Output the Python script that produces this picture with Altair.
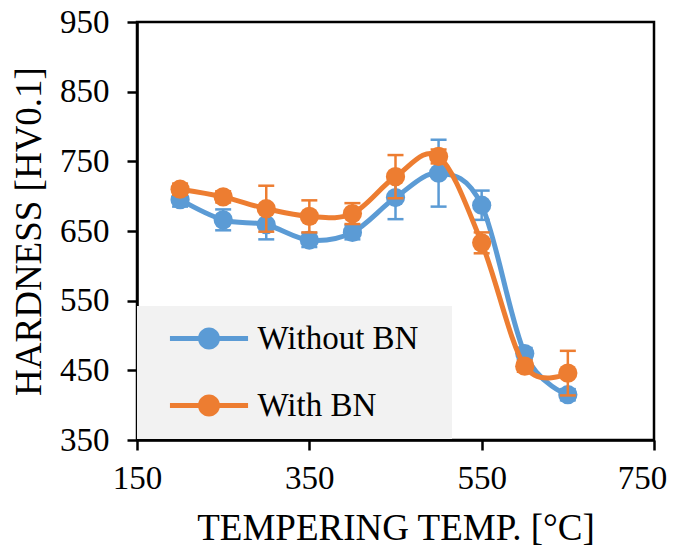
import altair as alt
import pandas as pd

# ---- data ----
temps = [200, 250, 300, 350, 400, 450, 500, 550, 600, 650]
without_bn = [695, 666, 659, 637, 648, 698, 733, 687, 474, 415]
without_bn_err = [10, 15, 21, 10, 10, 31, 48, 21, 8, 8]
with_bn = [710, 699, 682, 671, 675, 728, 757, 633, 456, 446]
with_bn_err = [8, 8, 33, 23, 15, 31, 10, 15, 8, 32]
series_names = ["Without BN", "With BN"]
series_colors = ["#5B9BD5", "#ED7D31"]
x_ticks = [150, 350, 550, 750]
y_ticks = [350, 450, 550, 650, 750, 850, 950]

rows = []
for name, vals, errs in [
    (series_names[0], without_bn, without_bn_err),
    (series_names[1], with_bn, with_bn_err),
]:
    for t, v, e in zip(temps, vals, errs):
        rows.append({"temp": t, "hardness": v, "lo": v - e, "hi": v + e, "series": name})
df = pd.DataFrame(rows)

FONT = "Liberation Serif"

x_axis = alt.Axis(values=x_ticks, title="TEMPERING TEMP. [°C]", labelFlush=False,
                  labelOverlap=False, labelPadding=12, titleY=99,
                  titleBaseline="alphabetic",
                  labelOffset={"condition": {"test": "datum.value == 750", "value": -12},
                               "value": 0})
y_axis = alt.Axis(values=y_ticks, title="HARDNESS [HV0.1]", labelPadding=18,
                  labelOverlap=False, titleX=-97, titleBaseline="alphabetic")
x_scale = alt.Scale(domain=[150, 750], nice=False, zero=False)
y_scale = alt.Scale(domain=[350, 950], nice=False, zero=False)

X = alt.X("temp:Q", scale=x_scale, axis=x_axis)
Y = alt.Y("hardness:Q", scale=y_scale, axis=y_axis)
YLO = alt.Y("lo:Q", scale=y_scale, axis=y_axis)
YHI = alt.Y("hi:Q", scale=y_scale, axis=y_axis)

color_scale = alt.Scale(domain=series_names, range=series_colors)

legend_path = ("M-3.55,-0.23L3.55,-0.23L3.55,0.23L-3.55,0.23Z "
               "M1,0A1,1,0,1,1,-1,0A1,1,0,1,1,1,0Z "
               "M20.6,0L20.601,0L20.601,0.0005Z")
legend = alt.Legend(
    orient="none", legendX=0, legendY=284, title=None,
    fillColor="#F2F2F2", padding=16, rowPadding=33,
    symbolType=legend_path, symbolSize=484, symbolOffset=39.5,
    symbolStrokeWidth=0, symbolOpacity=1,
    labelOffset=32, labelFont=FONT, labelFontSize=33, labelColor="black",
    labelLimit=400)
C = alt.Color("series:N", scale=color_scale, legend=legend)

layers = []
for s in series_names:
    base = alt.Chart(df).transform_filter(alt.datum.series == s)
    layers.append(base.mark_line(interpolate="cardinal", strokeWidth=5).encode(x=X, y=Y, color=C))
    layers.append(base.mark_rule(strokeWidth=2.5).encode(x=X, y=YLO, y2="hi:Q", color=C))
    layers.append(base.mark_tick(orient="horizontal", size=16, thickness=2.5, opacity=1)
                  .encode(x=X, y=YLO, color=C))
    layers.append(base.mark_tick(orient="horizontal", size=16, thickness=2.5, opacity=1)
                  .encode(x=X, y=YHI, color=C))
    layers.append(base.mark_circle(size=370, opacity=1).encode(x=X, y=Y, color=C))

chart = (
    alt.layer(*layers)
    .properties(width=517, height=418,
                autosize=alt.AutoSizeParams(type="none"),
                padding={"left": 129, "top": 14, "right": 20, "bottom": 107})
    .configure_view(stroke="black", strokeWidth=2.5)
    .configure_axis(domainColor="black", domainWidth=2.5, tickColor="black",
                    tickWidth=2.5, tickSize=10, grid=False,
                    labelFont=FONT, labelFontSize=33, labelColor="black",
                    titleFont=FONT, titleFontSize=37, titleFontWeight="normal",
                    titleColor="black")
)

chart.save("out.html", embed_options={"renderer": "svg", "actions": False})
